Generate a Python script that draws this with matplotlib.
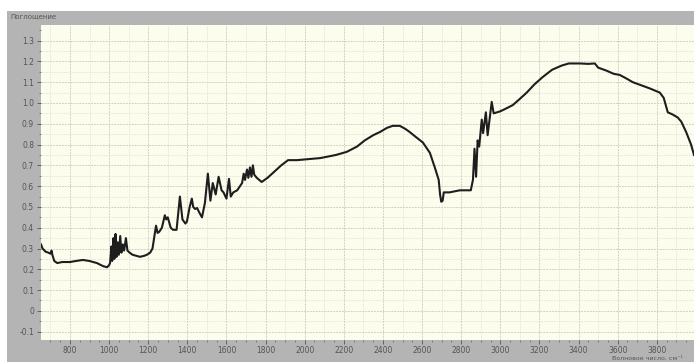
import matplotlib
matplotlib.use('Agg')
import matplotlib.pyplot as plt
from matplotlib.patches import Rectangle
from matplotlib.ticker import MultipleLocator, FixedLocator, FixedFormatter

# ИК-спектр поглощения
wavenumber = [652, 660, 675, 690, 700, 706, 710, 720, 735, 760, 800, 830, 866, 900, 938, 970, 990, 1000,
              1005, 1012, 1016, 1022, 1027, 1033, 1038, 1044, 1050, 1057, 1063, 1070, 1077, 1086, 1094,
              1105, 1120, 1140, 1158, 1180, 1193, 1210, 1222, 1232, 1240, 1248, 1256, 1270, 1285, 1292,
              1300, 1315, 1327, 1345, 1362, 1375, 1390, 1398, 1412, 1423, 1430, 1440, 1450, 1460, 1475,
              1490, 1505, 1518, 1530, 1545, 1560, 1575, 1585, 1600, 1613, 1622, 1635, 1655, 1680, 1688,
              1695, 1705, 1712, 1720, 1728, 1735, 1742, 1755, 1780, 1810, 1845, 1880, 1915, 1960, 2020,
              2080, 2160, 2215, 2267, 2307, 2350, 2384, 2420, 2450, 2486, 2515, 2537, 2570, 2604, 2640,
              2665, 2675, 2685, 2692, 2698, 2705, 2711, 2740, 2793, 2849, 2860, 2868, 2876, 2884, 2892,
              2905, 2912, 2926, 2935, 2956, 2966, 3000, 3033, 3064, 3100, 3135, 3175, 3217, 3265, 3314,
              3350, 3406, 3450, 3483, 3500, 3544, 3580, 3610, 3640, 3677, 3720, 3764, 3815, 3835, 3856,
              3880, 3907, 3925, 3950, 3975, 3990]
absorbance = [0.32, 0.30, 0.285, 0.28, 0.275, 0.29, 0.27, 0.24, 0.23, 0.235, 0.235, 0.24, 0.245, 0.24, 0.23,
              0.215, 0.21, 0.22,
              0.23, 0.31, 0.24, 0.35, 0.25, 0.37, 0.26, 0.33, 0.27, 0.36, 0.28, 0.32, 0.29, 0.35, 0.29,
              0.28, 0.27, 0.265, 0.26, 0.265, 0.27, 0.28, 0.30, 0.36, 0.41, 0.375, 0.38, 0.40, 0.46, 0.44,
              0.45, 0.40, 0.39, 0.39, 0.55, 0.44, 0.42, 0.43, 0.50, 0.54, 0.50, 0.49, 0.495, 0.475, 0.45,
              0.52, 0.66, 0.53, 0.615, 0.56, 0.645, 0.58, 0.57, 0.54, 0.635, 0.55, 0.57, 0.58, 0.615, 0.66,
              0.63, 0.68, 0.64, 0.69, 0.645, 0.70, 0.655, 0.64, 0.62, 0.64, 0.67, 0.70, 0.725, 0.725, 0.73,
              0.735, 0.75, 0.765, 0.79, 0.82, 0.845, 0.86, 0.88, 0.89, 0.89, 0.875, 0.86, 0.835, 0.81, 0.76,
              0.69, 0.66, 0.63, 0.56, 0.525, 0.53, 0.57, 0.57, 0.58, 0.58, 0.63, 0.78, 0.645, 0.82, 0.79,
              0.92, 0.855, 0.955, 0.845, 1.005, 0.95, 0.96, 0.975, 0.99, 1.02, 1.05, 1.09, 1.125, 1.16, 1.18,
              1.19, 1.19, 1.188, 1.19, 1.17, 1.155, 1.14, 1.135, 1.12, 1.10, 1.085, 1.07, 1.05, 1.025, 0.955,
              0.945, 0.93, 0.91, 0.86, 0.80, 0.75]

x_ticks = [800, 1000, 1200, 1400, 1600, 1800, 2000, 2200, 2400, 2600, 2800, 3000, 3200, 3400, 3600, 3800]
y_ticks = [-0.1, 0, 0.1, 0.2, 0.3, 0.4, 0.5, 0.6, 0.7, 0.8, 0.9, 1.0, 1.1, 1.2, 1.3]
y_labels = ['-0.1', '0', '0.1', '0.2', '0.3', '0.4', '0.5', '0.6', '0.7', '0.8', '0.9', '1.0', '1.1', '1.2', '1.3']

W, H = 694, 362
fig = plt.figure(figsize=(W / 100, H / 100), dpi=100)
fig.patch.set_facecolor('white')
# серая рамка окна программы (под осями)
frame = Rectangle((7 / W, 0), (W - 7) / W, (H - 11) / H, transform=fig.transFigure,
                  facecolor='#b4b4b4', edgecolor='none', zorder=-10)
fig.add_artist(frame)

ax = fig.add_axes([41 / W, (H - 340) / H, (W - 41) / W, (340 - 25) / H])
ax.set_zorder(1)
ax.set_facecolor('#fdfdee')
ax.plot(wavenumber, absorbance, color='#1e1e1e', lw=1.5, zorder=3)

ax.set_xlim(652, 3990)
ax.set_ylim(-0.14, 1.375)

ax.xaxis.set_major_locator(FixedLocator(x_ticks))
ax.xaxis.set_minor_locator(MultipleLocator(50))
ax.yaxis.set_major_locator(FixedLocator(y_ticks))
ax.yaxis.set_major_formatter(FixedFormatter(y_labels))
ax.yaxis.set_minor_locator(MultipleLocator(0.05))

# сетка: основная и промежуточная
ax.grid(which='major', color='#d2d2c4', lw=0.7, ls=(0, (2, 1)), zorder=1)
for x in range(700, 4000, 200):
    ax.axvline(x, color='#e6e6da', lw=0.6, ls=(0, (2, 1)), zorder=1)
for y in [v / 100 for v in range(-5, 135, 10)]:
    ax.axhline(y, color='#e6e6da', lw=0.6, ls=(0, (2, 1)), zorder=1)

for s in ax.spines.values():
    s.set_visible(False)

ax.tick_params(which='major', length=3, width=0.6, color='#555555', labelsize=5.5,
               labelcolor='#555555', pad=2)
ax.tick_params(which='minor', length=1.5, width=0.5, color='#666666')
ax.tick_params(axis='x', pad=1)

fig.text(10 / W, 1 - 16 / H, 'Поглощение', fontsize=5, color='#555555', va='center', ha='left')
fig.text(612 / W, 1 - 358 / H, 'Волновое число, см⁻¹', fontsize=4.5, color='#555555', va='center', ha='left')

fig.savefig('out.png', dpi=100)
